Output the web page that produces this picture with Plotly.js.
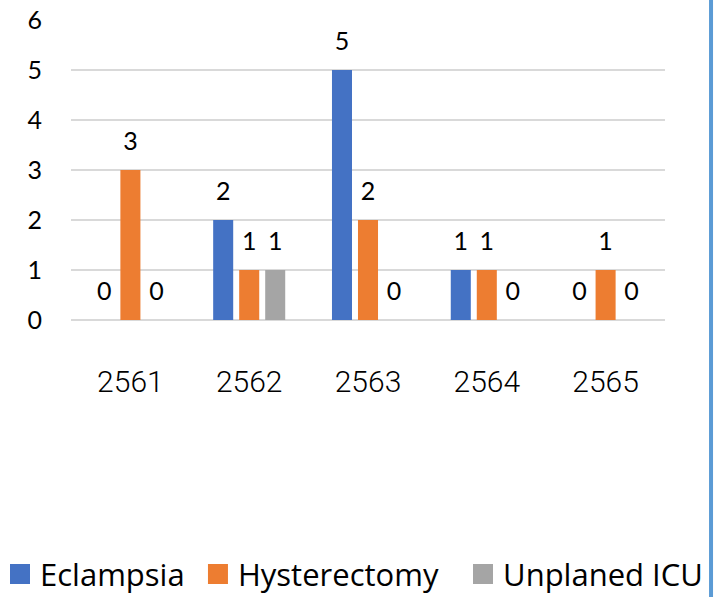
<!DOCTYPE html>
<html>
<head>
<meta charset="utf-8">
<script src="https://cdn.plot.ly/plotly-3.0.1.min.js"></script>
<style>html,body{margin:0;padding:0;background:#fff;}#chart{width:727px;height:597px;}</style>
</head>
<body>
<div id="chart"></div>
<script>
var years = ['2561', '2562', '2563', '2564', '2565'];
var eclampsia = [0, 2, 5, 1, 0];
var hysterectomy = [3, 1, 2, 1, 1];
var unplanedICU = [0, 1, 0, 0, 0];
var seriesNames = ['Eclampsia', 'Hysterectomy', 'Unplaned ICU'];
var seriesColors = ['#4472c4', '#ed7d31', '#a5a5a5'];
var yTicks = [0, 1, 2, 3, 4, 5, 6];

var seriesValues = [eclampsia, hysterectomy, unplanedICU];
var FONT = 'Lato, "Noto Sans", "DejaVu Sans", sans-serif';
var LEGEND_FONT = {family: '"Open Sans", "Noto Sans", sans-serif', size: 31, color: '#000'};
var legendIds = ['legend', 'legend2', 'legend3'];
var legendX = [0, 0.2723, 0.6369];
var traces = [];
seriesValues.forEach(function (vals, i) {
  traces.push({
    type: 'bar', x: years, y: vals, name: seriesNames[i],
    marker: {color: seriesColors[i]}, offsetgroup: 'g' + i,
    showlegend: false, hoverinfo: 'skip'
  });
});
seriesValues.forEach(function (vals, i) {
  traces.push({
    type: 'scatter', mode: 'markers+text', x: years, y: vals,
    text: vals.map(String), textposition: 'top center',
    textfont: {family: FONT, size: 25, color: '#000'},
    marker: {size: 20, opacity: 0, color: seriesColors[i]},
    offsetgroup: 'g' + i, showlegend: false, hoverinfo: 'skip', cliponaxis: false
  });
});
// legend entries (no data points drawn)
seriesNames.forEach(function (name, i) {
  traces.push({
    type: 'scatter', mode: 'markers', x: [null], y: [null], name: name,
    marker: {symbol: 'square', size: 20, color: seriesColors[i], line: {width: 4, color: seriesColors[i]}},
    showlegend: true, legend: legendIds[i], hoverinfo: 'skip'
  });
});

var layout = {
  width: 727, height: 597,
  margin: {l: 71, r: 62, t: 20, b: 277},
  paper_bgcolor: '#fff', plot_bgcolor: '#fff',
  barmode: 'group', bargap: 0.343, bargroupgap: 0.23,
  scattermode: 'group', scattergap: 0.343,
  showlegend: true,
  xaxis: {
    type: 'category', showgrid: false, zeroline: false, showline: false,
    ticks: '', ticklabelstandoff: 41,
    tickfont: {family: 'Roboto, "Liberation Sans", sans-serif', size: 30, color: '#000', weight: 300}
  },
  yaxis: {
    range: [0, 6], tickvals: yTicks, showgrid: true, gridcolor: '#d9d9d9', gridwidth: 1.5,
    zeroline: true, zerolinecolor: '#d9d9d9', zerolinewidth: 1.5, showline: false,
    ticks: '', ticklabelstandoff: 28,
    tickfont: {family: FONT, size: 25, color: '#000'}
  },
  shapes: [{
    type: 'line', xref: 'paper', yref: 'paper',
    x0: 1.0775, x1: 1.0775, y0: 1.1, y1: -0.95,
    line: {color: '#5b9bd5', width: 4}
  }]
};
legendIds.forEach(function (id, i) {
  layout[id] = {
    orientation: 'h', xref: 'container', yref: 'container',
    x: legendX[i], y: 0.038, xanchor: 'left', yanchor: 'middle',
    font: LEGEND_FONT, itemwidth: 30, itemsizing: 'trace',
    bgcolor: 'rgba(0,0,0,0)', borderwidth: 0
  };
});
Plotly.newPlot('chart', traces, layout, {displayModeBar: false, staticPlot: true});
</script>
</body>
</html>
